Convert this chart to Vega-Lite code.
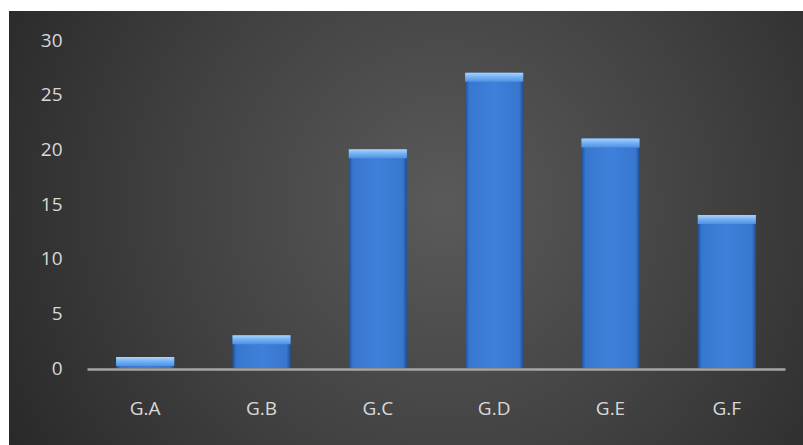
{
  "$schema": "https://vega.github.io/schema/vega-lite/v6.json",
  "width": 794,
  "height": 435,
  "autosize": {"type": "none"},
  "padding": {"left": 9, "top": 11, "right": 0, "bottom": 0},
  "background": "#ffffff",
  "config": {
    "font": "Open Sans, Noto Sans, sans-serif",
    "view": {
      "stroke": null,
      "fill": {
        "gradient": "radial",
        "x1": 0.55, "y1": 0.47, "r1": 0,
        "x2": 0.55, "y2": 0.47, "r2": 0.75,
        "stops": [
          {"offset": 0, "color": "#5a5a5a"},
          {"offset": 0.45, "color": "#414141"},
          {"offset": 1, "color": "#1f1f1f"}
        ]
      }
    }
  },
  "data": {
    "values": [
      {"group": "G.A", "count": 1},
      {"group": "G.B", "count": 3},
      {"group": "G.C", "count": 20},
      {"group": "G.D", "count": 27},
      {"group": "G.E", "count": 21},
      {"group": "G.F", "count": 14}
    ]
  },
  "encoding": {
    "x": {
      "field": "group",
      "type": "nominal",
      "sort": null,
      "title": null,
      "scale": {"range": [78, 776], "paddingInner": 0.5, "paddingOuter": 0.25},
      "axis": {
        "offset": -77,
        "domainColor": "#a6a6a6",
        "domainWidth": 2.5,
        "ticks": false,
        "labelPadding": 30,
        "labelAngle": 0,
        "labelColor": "#d9d9d9",
        "labelFontSize": 19,
        "labelFontWeight": "normal",
        "grid": false
      }
    },
    "y": {
      "field": "count",
      "type": "quantitative",
      "title": null,
      "scale": {"domain": [0, 30], "range": [357, 29], "nice": false, "zero": true},
      "axis": {
        "values": [0, 5, 10, 15, 20, 25, 30],
        "offset": -53,
        "domain": false,
        "ticks": false,
        "grid": false,
        "labelPadding": 0,
        "labelColor": "#d9d9d9",
        "labelFontSize": 19,
        "labelFontWeight": "normal"
      }
    }
  },
  "layer": [
    {
      "mark": {
        "type": "bar",
        "fill": {
          "gradient": "linear",
          "x1": 0, "y1": 0, "x2": 1, "y2": 0,
          "stops": [
            {"offset": 0, "color": "#1f4f94"},
            {"offset": 0.07, "color": "#3877cf"},
            {"offset": 0.5, "color": "#3e80db"},
            {"offset": 0.93, "color": "#3877cf"},
            {"offset": 1, "color": "#1f4f94"}
          ]
        }
      }
    },
    {
      "mark": {
        "type": "tick",
        "thickness": 9,
        "yOffset": 4.5,
        "opacity": 1,
        "fill": {
          "gradient": "linear",
          "x1": 0, "y1": 0, "x2": 0, "y2": 1,
          "stops": [
            {"offset": 0, "color": "#a8d4ff"},
            {"offset": 0.45, "color": "#78b3f3"},
            {"offset": 1, "color": "#4f90e3"}
          ]
        }
      }
    }
  ]
}
